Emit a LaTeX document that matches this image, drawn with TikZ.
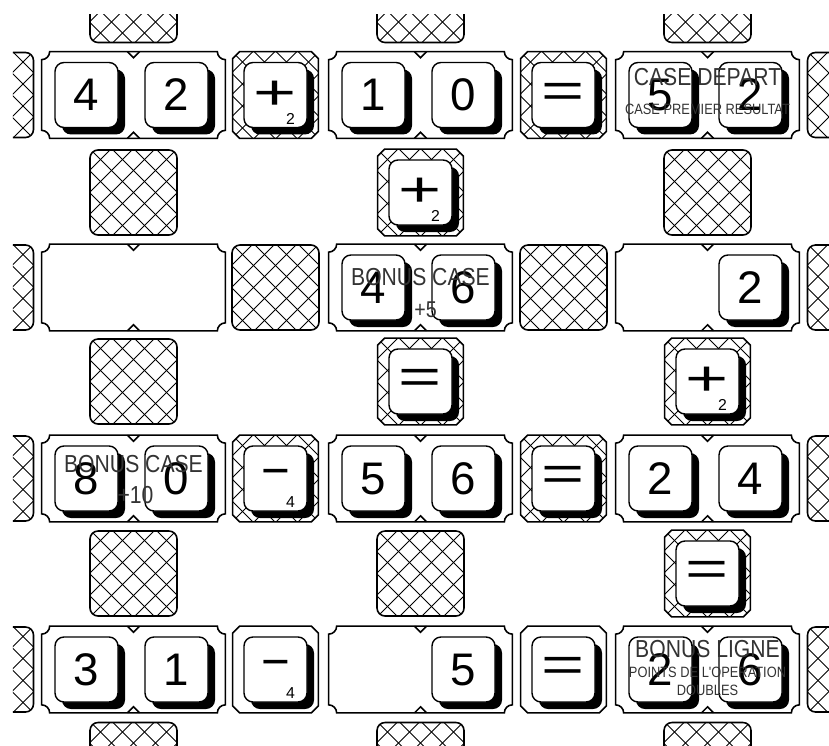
\documentclass[tikz,border=0pt]{standalone}
\usepackage{fontspec}
\usepackage{graphicx}
\setmainfont{Liberation Sans}
\newfontfamily\notefont[FakeStretch=0.86]{Liberation Sans}
\usetikzlibrary{shadows}

% frame of a two-digit slot: hollow corners, small notches top and bottom
\newcommand\slotframe[1]{%
  \draw[slotline] ([xshift=1.6mm]#1.north west) -- ([xshift=-1.6mm]#1.north east)
    arc[start angle=180,end angle=270,radius=1.6mm] -- ([yshift=1.6mm]#1.south east)
    arc[start angle=90,end angle=180,radius=1.6mm] -- ([xshift=1.6mm]#1.south west)
    arc[start angle=0,end angle=90,radius=1.6mm] -- ([yshift=-1.6mm]#1.north west)
    arc[start angle=-90,end angle=0,radius=1.6mm] -- cycle;
  \draw[slotline] ([xshift=-1.2mm]#1.north) -- ([yshift=-1.2mm]#1.north) -- ([xshift=1.2mm]#1.north)
    ([xshift=-1.2mm]#1.south) -- ([yshift=1.2mm]#1.south) -- ([xshift=1.2mm]#1.south);}
% frame of an operator cell: cut corners
\newcommand\opframe[2][]{%
  \draw[slotline,#1] ([xshift=1.4mm]#2.north west) -- ([xshift=-1.4mm]#2.north east)
    -- ([yshift=-1.4mm]#2.north east) -- ([yshift=1.4mm]#2.south east)
    -- ([xshift=-1.4mm]#2.south east) -- ([xshift=1.4mm]#2.south west)
    -- ([yshift=1.4mm]#2.south west) -- ([yshift=-1.4mm]#2.north west) -- cycle;}
\newcommand\wideop[1]{\scalebox{1.5}[1]{#1}}

\begin{document}
\begin{tikzpicture}[
  slot/.style={minimum width=3.66cm, minimum height=1.72cm, inner sep=0pt},
  slotline/.style={line width=0.9pt},
  hatched/.style={path picture={
    \foreach \k in {-5,...,5}{
      \draw[line width=0.5pt] ([xshift=\k*4.4mm]path picture bounding box.center) ++(-2,-2) -- ++(4,4);
      \draw[line width=0.5pt] ([xshift=\k*4.4mm]path picture bounding box.center) ++(-2,2) -- ++(4,-4);}}},
  block/.style={draw, line width=0.9pt, rounded corners=1.6mm, minimum width=1.74cm,
    minimum height=1.7cm, inner sep=0pt, hatched},
  opcell/.style={minimum width=1.7cm, minimum height=1.72cm, inner sep=0pt},
  tile/.style={draw, fill=white, line width=0.8pt, rounded corners=1.8mm, minimum width=1.26cm,
    minimum height=1.3cm, inner sep=0pt, font=\fontsize{26}{26}\selectfont,
    drop shadow={shadow xshift=1.4mm, shadow yshift=-1.4mm, fill=black, opacity=1}},
  optile/.style={tile, font=\fontsize{28}{28}\selectfont},
  sub/.style={font=\fontsize{9}{9}\selectfont, inner sep=0pt},
  note/.style={font=\notefont\fontsize{14}{14}\selectfont, text=black!80, inner sep=0pt},
  small note/.style={note, font=\notefont\fontsize{8.5}{8.5}\selectfont}]
\useasboundingbox (0,0) rectangle (16.58,-14.9);
\clip (0.26,-0.3) rectangle (16.58,-14.9);

% blocked squares
\foreach \x/\y [count=\n] in {-0.2/-1.9, -0.2/-5.75, -0.2/-9.57, -0.2/-13.39,
    17.02/-1.9, 17.02/-5.75, 17.02/-9.57, 17.02/-13.39,
    2.67/0, 8.41/0, 14.15/0, 2.67/-15.3, 8.41/-15.3, 14.15/-15.3,
    2.67/-3.85, 14.15/-3.85, 2.67/-7.63, 2.67/-11.47, 8.41/-11.47,
    5.51/-5.75, 11.27/-5.75}
  \node[block] (blk\n) at (\x,\y) {};

% number slots
\foreach \s/\x/\y in {a1/2.67/-1.9, a2/8.41/-1.9, a3/14.15/-1.9,
    b1/2.67/-5.75, b2/8.41/-5.75, b3/14.15/-5.75,
    c1/2.67/-9.57, c2/8.41/-9.57, c3/14.15/-9.57,
    d1/2.67/-13.39, d2/8.41/-13.39, d3/14.15/-13.39}
  {\node[slot] (\s) at (\x,\y) {}; \slotframe{\s}}

\foreach \s/\l/\r in {a1/4/2, a2/1/0, a3/5/2, b2/4/6, c1/8/0, c2/5/6, c3/2/4, d1/3/1, d3/2/6}
  {\node[tile] (\s-l) at ([xshift=-9.4mm]\s.center) {\l};
   \node[tile] (\s-r) at ([xshift=8.6mm]\s.center) {\r};}
\node[tile] (b3-r) at ([xshift=8.6mm]b3.center) {2};
\node[tile] (d2-r) at ([xshift=8.6mm]d2.center) {5};

% operators
\foreach \o/\x/\y/\sym in {a1p/5.51/-1.9/{\wideop{+}}, a2p/11.27/-1.9/{\wideop{=}},
    c1p/5.51/-9.57/{−}, c2p/11.27/-9.57/{\wideop{=}},
    v1/8.41/-3.85/{\wideop{+}}, v2/8.41/-7.63/{\wideop{=}},
    v3/14.15/-7.63/{\wideop{+}}, v4/14.15/-11.47/{\wideop{=}}}
  {\node[opcell] (\o) at (\x,\y) {};
   \opframe[hatched]{\o}
   \node[optile] (\o-t) at (\o) {\sym};}
\node[opcell] (d1p) at (5.51,-13.39) {};
\opframe{d1p}
\node[optile] (d1p-t) at (d1p) {−};
\node[opcell] (d2p) at (11.27,-13.39) {};
\opframe{d2p}
\node[optile] (d2p-t) at (d2p) {\wideop{=}};
\foreach \o/\d in {a1p/2, c1p/4, v1/2, v3/2, d1p/4}
  \node[sub] (\o-s) at ([shift={(3mm,-4.7mm)}]\o-t.center) {\d};

% bonus texts
\node[note] (start) at ([yshift=3.6mm]a3.center) {CASE DEPART};
\node[small note] (start2) at ([yshift=-2.8mm]a3.center) {CASE PREMIER RESULTAT};
\node[note] (bonus1) at ([yshift=2mm]b2.center) {BONUS CASE};
\node[note, font=\notefont\fontsize{13}{13}\selectfont] (bonus1v) at ([shift={(1mm,-4.5mm)}]b2.center) {+5};
\node[note] (bonus2) at ([yshift=2.8mm]c1.center) {BONUS CASE};
\node[note] (bonus2v) at ([shift={(0.4mm,-3.3mm)}]c1.center) {+10};
\node[note] (line) at ([yshift=4mm]d3.center) {BONUS LIGNE};
\node[small note] (line2) at ([yshift=-0.6mm]d3.center) {POINTS DE L'OPERATION};
\node[small note] (line3) at ([yshift=-4.2mm]d3.center) {DOUBLES};
\end{tikzpicture}
\end{document}
